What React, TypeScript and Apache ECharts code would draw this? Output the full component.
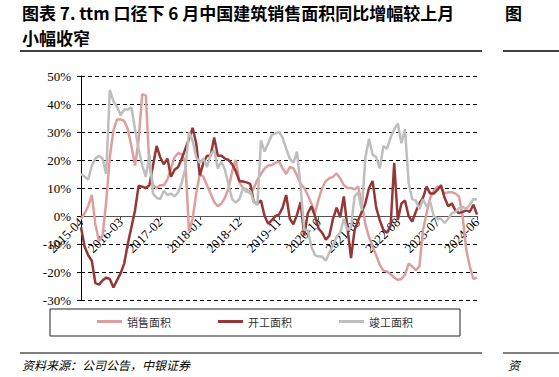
import React, { useEffect, useRef } from "react";
import * as echarts from "echarts";

const START_YEAR = 2015;
const START_MONTH = 4;
const MONTH_COUNT = 111;
const months: string[] = [];
for (let k = 0; k < MONTH_COUNT; k++) {
  const m = START_MONTH - 1 + k;
  const y = START_YEAR + Math.floor(m / 12);
  const mm = (m % 12) + 1;
  months.push(`${y}-${mm < 10 ? "0" + mm : mm}`);
}

const seriesNames = ["销售面积", "开工面积", "竣工面积"];

const sales = [
  -1, 1, 3.5, 7.5, -3, -9, -7, 5, 21, 30.5,
  34.5, 34.5, 34, 31, 25, 18, 27, 43.5, 43, 18,
  11, 10, 11, 11, 13, 17, 21, 22.5, 22, 19,
  -5.5, -1, 8, 15, 14, 11, 8, 5, 3.5, 4.5,
  6.5, 10, 16, 20, 12, 10, 9.5, 8, 10, 13,
  15, 17, 18, 18.2, 19, 19.5, 17, 15, 17.5, 17,
  14.5, 11.5, 10, 7.5, 4.5, 1, 6, 10, 12.5, 13.5,
  14, 15.2, 13.5, 11, 10, 10, 9.5, 10.5, 4.5, -3,
  -7.5, -11, -14, -17.5, -19.5, -19.8, -20.8, -22, -22.8, -22.5,
  -21, -17, -18, -19.3, -18, -5, 1, 6.5, 9, 10.5,
  10, 8, 8.5, 8.5, 8, 7, 0, -12, -18, -22.5,
  -22,
];

const starts = [
  -4, -11, -14, -16, -24, -24.5, -23, -22, -22.5, -25.5,
  -23, -20.5, -17, -10, -4, 2, 10.8, 10.5, 10, 11,
  18, 25, 21, 18.5, 20.5, 14, 16.5, 17.5, 20.5, 24,
  27.5, 31.5, 26, 14.5, 19, 21.5, 21.5, 28, 21.5, 21.5,
  20.5, 20, 18.5, 16, 12.5, 12.3, 12, 11.5, 5, 4.5,
  5.5, 0, -2.8, -1.5, 0, 0.5, 3, 7.5, -1, -3,
  0.5, 5, -7, 1, 3.5, 0, -4.5, -6, -8.5, -7,
  -1, 3, -0.5, 7, -4, -15, -5, -1.5, 1.5, 4.5,
  10, 12.5, 3, -1.5, -5, -6, -3.5, 19, -1.5, 4.5,
  5.5, 0, -2, 1.5, 4.5, 6.5, 10.5, 8, 8, 9.3,
  11, 6.5, 3.5, 4.5, 2, 1, 1.5, 2, 1.5, 4,
  0.5,
];

const completions = [
  15, 14, 13, 18, 20.5, 21.5, 20.5, 15, 45, 41,
  39, 36, 38, 38, 38.8, 31, 24, 18, 14, 22,
  8, 6.5, 6, 9, 7.5, 8, 7, 8.5, 12, 17,
  30, 27, 21, 19, 20.5, 17.5, 22, 23.5, 17, 19.5,
  16.4, 11, 6, 4.8, 6, 10, 8.5, 9, 5, 3.9,
  27, 23, 26, 29, 29.5, 30, 28, 24, 20.5, 19,
  23, 10.5, -5, -5, -11, -14, -14.5, -14.5, -16, -13,
  -10.5, -7.4, -6, -1, -5, -4, 7, 8.5, 2, 21,
  27.5, 22, 21, 17, 25, 24, 28, 31, 33, 26,
  31, 12, 6, 5.5, 2.5, 6, 3.5, 5, 0, -1,
  -1, -2.5, -1, 1, 1.5, 2.7, 3.3, 2.5, 4, 6,
  6,
];

const yTicks = { min: -30, max: 50, interval: 10 };

const titleLine1 = "图表 7. ttm 口径下 6 月中国建筑销售面积同比增幅较上月";
const titleLine2 = "小幅收窄";
const sourceText = "资料来源：公司公告，中银证券";

const colors = ["#DE9E9E", "#953735", "#BEBEBE"];
const CJK = "Noto Sans CJK SC";
const SERIF = "Liberation Serif";

const GRID_TOP = 76;
const GRID_BOTTOM = 77;
const CHART_H = 377;

export default function App() {
  const ref = useRef<HTMLDivElement>(null);
  useEffect(() => {
    if (!ref.current) return;
    const chart = echarts.init(ref.current, undefined, { renderer: "svg" });
    const data = [sales, starts, completions];
    const plotH = CHART_H - GRID_TOP - GRID_BOTTOM;
    const zeroShift = (plotH * (0 - yTicks.min)) / (yTicks.max - yTicks.min);
    chart.setOption({
      animation: false,
      backgroundColor: "#fff",
      color: colors,
      grid: { left: 81, right: 82, top: GRID_TOP, bottom: GRID_BOTTOM, containLabel: false },
      legend: {
        data: seriesNames,
        left: 97,
        top: 316,
        padding: 0,
        icon: "rect",
        itemWidth: 25,
        itemHeight: 3,
        itemGap: 47,
        textStyle: { fontSize: 11, color: "#333", fontFamily: CJK },
      },
      xAxis: {
        type: "category",
        data: months,
        boundaryGap: false,
        offset: -zeroShift,
        axisLine: { onZero: false, lineStyle: { color: "#555", width: 1.2 } },
        axisTick: { show: true, interval: 10, length: 4, lineStyle: { color: "#555" } },
        axisLabel: {
          interval: 10,
          rotate: 45,
          fontFamily: SERIF,
          fontSize: 13,
          color: "#000",
          margin: 4,
        },
        splitLine: { show: false },
      },
      yAxis: {
        type: "value",
        min: yTicks.min,
        max: yTicks.max,
        interval: yTicks.interval,
        axisLine: { show: true, lineStyle: { color: "#000" } },
        axisTick: { show: true, length: 4, lineStyle: { color: "#000" } },
        axisLabel: {
          formatter: "{value}%",
          fontFamily: SERIF,
          fontSize: 13,
          color: "#000",
          margin: 10,
        },
        splitLine: { lineStyle: { type: [4, 3], color: "#000", width: 1 } },
      },
      series: seriesNames.map((name, k) => ({
        name,
        type: "line",
        data: data[k],
        showSymbol: false,
        symbol: "none",
        lineStyle: { width: 2.5, color: colors[k] },
        itemStyle: { color: colors[k] },
      })),
      graphic: [
        {
          type: "text",
          x: 22,
          y: 4,
          style: { text: titleLine1, fontSize: 17, fontWeight: "bold", fontFamily: CJK, fill: "#000" },
        },
        {
          type: "text",
          x: 22,
          y: 29,
          style: { text: titleLine2, fontSize: 17, fontWeight: "bold", fontFamily: CJK, fill: "#000" },
        },
        {
          type: "text",
          x: 505,
          y: 4,
          style: { text: "图", fontSize: 17, fontWeight: "bold", fontFamily: CJK, fill: "#000" },
        },
        { type: "line", shape: { x1: 20, y1: 51, x2: 482, y2: 51 }, style: { stroke: "#000", lineWidth: 1.5 } },
        { type: "line", shape: { x1: 503, y1: 51, x2: 559, y2: 51 }, style: { stroke: "#000", lineWidth: 1.5 } },
        {
          type: "rect",
          shape: { x: 50, y: 309, width: 410, height: 27 },
          style: { fill: "none", stroke: "#222", lineWidth: 1 },
        },
        { type: "line", shape: { x1: 20, y1: 353, x2: 482, y2: 353 }, style: { stroke: "#000", lineWidth: 1 } },
        { type: "line", shape: { x1: 503, y1: 353, x2: 559, y2: 353 }, style: { stroke: "#000", lineWidth: 1 } },
        {
          type: "text",
          x: 22,
          y: 358,
          style: { text: sourceText, fontSize: 12, fontStyle: "italic", fontFamily: CJK, fill: "#000" },
        },
        {
          type: "text",
          x: 508,
          y: 358,
          style: { text: "资", fontSize: 12, fontStyle: "italic", fontFamily: CJK, fill: "#000" },
        },
      ],
    });
    return () => chart.dispose();
  }, []);
  return (
    <div
      ref={ref}
      style={{ position: "fixed", left: 0, top: 0, width: 559, height: 377, background: "#fff" }}
    />
  );
}
